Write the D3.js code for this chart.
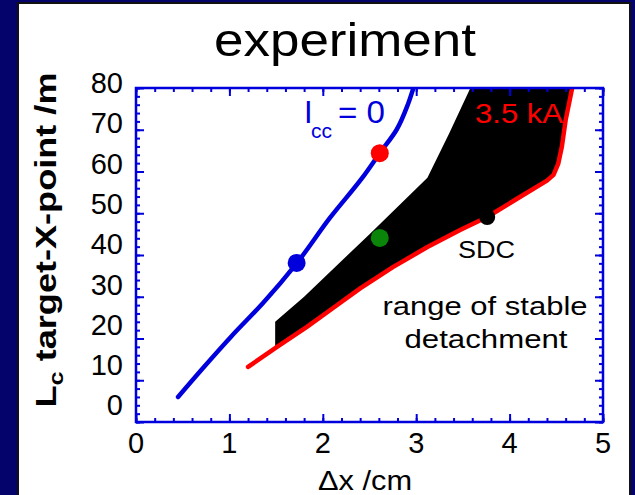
<!DOCTYPE html>
<html><head><meta charset="utf-8">
<script src="https://cdn.jsdelivr.net/npm/d3@7"></script>
<style>
html,body{margin:0;padding:0;background:#03036b;}
svg{display:block;font-family:"Liberation Sans",Arial,Helvetica,sans-serif;}
</style></head>
<body>
<svg id="chart" width="635" height="495"></svg>
<script>
// ---- data ----
const xTicks = [0, 1, 2, 3, 4, 5];
const yTicks = [0, 10, 20, 30, 40, 50, 60, 70, 80];
// I_cc = 0 curve (blue)
const blueX = [0.45, 0.72, 1.02, 1.36, 1.72, 2.08, 2.43, 2.61, 2.79, 2.91, 2.97];
const blueY = [6.0, 13.0, 20.5, 28.5, 38.0, 49.0, 58.7, 64.4, 70.0, 76.0, 80.0];
// 3.5 kA curve (red)
const redX = [1.20, 1.51, 1.83, 2.11, 2.40, 2.75, 3.12, 3.47, 3.76, 4.11, 4.40, 4.47, 4.52, 4.56, 4.60, 4.67];
const redY = [13.2, 18.0, 22.8, 27.3, 32.0, 37.1, 41.9, 46.0, 49.1, 53.9, 57.8, 59.2, 61.8, 66.0, 72.3, 80.0];
// upper edge of stable-detachment region (black)
const regionX = [1.49, 1.49, 1.80, 2.50, 3.12, 3.35, 3.58];
const regionY = [17.7, 24.0, 30.0, 45.0, 58.5, 69.0, 80.0];
// marked points
const dotNames = ["red", "blue", "green", "SDC"];
const dotX = [2.61, 1.72, 2.61, 3.76];
const dotY = [64.4, 38.1, 44.1, 49.1];
const dotColors = ["#ff0000", "#0000dd", "#0a850a", "#000000"];

// ---- layout ----
const svg = d3.select("#chart");
const L = 136, R = 603, T = 88, B = 422;
const x = d3.scaleLinear().domain([0, 5]).range([L, R]);
const y = d3.scaleLinear().domain([0, 80]).range([B, T]);
const yLab = d3.scaleLinear().domain([0, 80]).range([405, 82.5]);
const BLUE = "#0000dd";

// white panel
svg.append("rect").attr("x", 18).attr("y", 3).attr("width", 612).attr("height", 500)
  .attr("fill", "#fff").attr("stroke", "#111").attr("stroke-width", 2);

// title
svg.append("text").attr("x", 345).attr("y", 56).attr("text-anchor", "middle")
  .attr("font-size", 46).attr("textLength", 262).attr("lengthAdjust", "spacingAndGlyphs")
  .text("experiment");

const clipId = "plotclip";
svg.append("clipPath").attr("id", clipId).append("rect")
  .attr("x", L).attr("y", T).attr("width", R - L).attr("height", B - T);
const plot = svg.append("g").attr("clip-path", `url(#${clipId})`);

const smooth = d3.line().x(d => x(d[0])).y(d => y(d[1])).curve(d3.curveMonotoneY);
const straight = d3.line().x(d => x(d[0])).y(d => y(d[1]));

// black region
const redPts = redX.map((v, i) => [v, redY[i]]);
const upper = regionX.map((v, i) => [v, regionY[i]]);
const lower = redPts.filter(p => p[0] >= 1.5);
const regionPts = upper.concat([[redX[redX.length - 1], 80]]).concat(lower.slice().reverse());
plot.append("path")
  .attr("d", straight(regionPts) + "Z")
  .attr("fill", "#000");

plot.append("path").attr("d", smooth(blueX.map((v, i) => [v, blueY[i]])))
  .attr("fill", "none").attr("stroke", BLUE).attr("stroke-width", 4.5).attr("stroke-linecap", "round");
plot.append("path").attr("d", straight(redPts))
  .attr("fill", "none").attr("stroke", "#ff0000").attr("stroke-width", 4.5)
  .attr("stroke-linecap", "round").attr("stroke-linejoin", "round");

// dots
svg.selectAll("circle.dot").data(dotNames).enter().append("circle").attr("class", "dot")
  .attr("cx", (d, i) => x(dotX[i])).attr("cy", (d, i) => y(dotY[i]))
  .attr("r", (d, i) => d === "SDC" ? 8 : 9).attr("fill", (d, i) => dotColors[i]);

// ticks on all four sides, inward
function ticks(axisGen, tr, scale, majors, minors, majLen, minLen) {
  const g = svg.append("g").attr("transform", tr);
  g.call(axisGen(scale).tickValues(minors).tickSize(-minLen).tickFormat(""));
  g.select(".domain").remove();
  const g3 = svg.append("g").attr("transform", tr);
  g3.call(axisGen(scale).tickValues(majors).tickSize(-majLen).tickFormat(""));
  g3.select(".domain").remove();
  [g, g3].forEach(gg => gg.selectAll("line").attr("stroke", BLUE).attr("stroke-width", 2));
}
const xMinor = d3.range(0, 5.001, 0.2).map(v => +v.toFixed(1));
const yMinor = d3.range(0, 80.001, 2);
ticks(d3.axisBottom, `translate(0,${B})`, x, xTicks, xMinor, 8, 4);
ticks(d3.axisTop, `translate(0,${T})`, x, xTicks, xMinor, 8, 4);
ticks(d3.axisLeft, `translate(${L},0)`, y, yTicks, yMinor, 8, 4);
ticks(d3.axisRight, `translate(${R},0)`, y, yTicks, yMinor, 8, 4);

// frame
svg.append("rect").attr("x", L).attr("y", T).attr("width", R - L).attr("height", B - T)
  .attr("fill", "none").attr("stroke", BLUE).attr("stroke-width", 2.5);

// tick labels
svg.append("g").selectAll("text").data(xTicks).enter().append("text")
  .attr("x", d => x(d)).attr("y", 453).attr("text-anchor", "middle")
  .attr("font-size", 29).text(d => d);
svg.append("g").selectAll("text").data(yTicks).enter().append("text")
  .attr("x", 123).attr("y", d => yLab(d)).attr("dy", "0.36em").attr("text-anchor", "end")
  .attr("font-size", 29).text(d => d);

// axis titles
svg.append("text").attr("x", 365).attr("y", 490).attr("text-anchor", "middle")
  .attr("font-size", 28).attr("textLength", 94).attr("lengthAdjust", "spacingAndGlyphs")
  .text("\u0394x /cm");
const yt = svg.append("text").attr("transform", "translate(56,240) rotate(-90)")
  .attr("text-anchor", "middle").attr("font-size", 30).attr("font-weight", "bold")
  .attr("textLength", 335).attr("lengthAdjust", "spacingAndGlyphs");
yt.append("tspan").text("L");
yt.append("tspan").attr("font-size", 21).attr("dy", 7).text("c");
yt.append("tspan").attr("dy", -7).text(" target-X-point /m");

// annotations
svg.append("text").attr("x", 304).attr("y", 123).attr("fill", BLUE).attr("font-size", 31).text("I");
svg.append("text").attr("x", 311).attr("y", 138).attr("fill", BLUE).attr("font-size", 21).text("cc");
svg.append("text").attr("x", 338).attr("y", 123).attr("fill", BLUE).attr("font-size", 31)
  .attr("textLength", 47).attr("lengthAdjust", "spacingAndGlyphs").text("= 0");
svg.append("text").attr("x", 475).attr("y", 123).attr("fill", "#ff0000").attr("font-size", 28)
  .attr("textLength", 88).attr("lengthAdjust", "spacingAndGlyphs").text("3.5 kA");
svg.append("text").attr("x", 458).attr("y", 258).attr("font-size", 23)
  .attr("textLength", 57).attr("lengthAdjust", "spacingAndGlyphs").text("SDC");
svg.append("text").attr("x", 485).attr("y", 315).attr("text-anchor", "middle").attr("font-size", 26)
  .attr("textLength", 205).attr("lengthAdjust", "spacingAndGlyphs").text("range of stable");
svg.append("text").attr("x", 486).attr("y", 348).attr("text-anchor", "middle").attr("font-size", 26)
  .attr("textLength", 163).attr("lengthAdjust", "spacingAndGlyphs").text("detachment");
</script>
</body></html>
